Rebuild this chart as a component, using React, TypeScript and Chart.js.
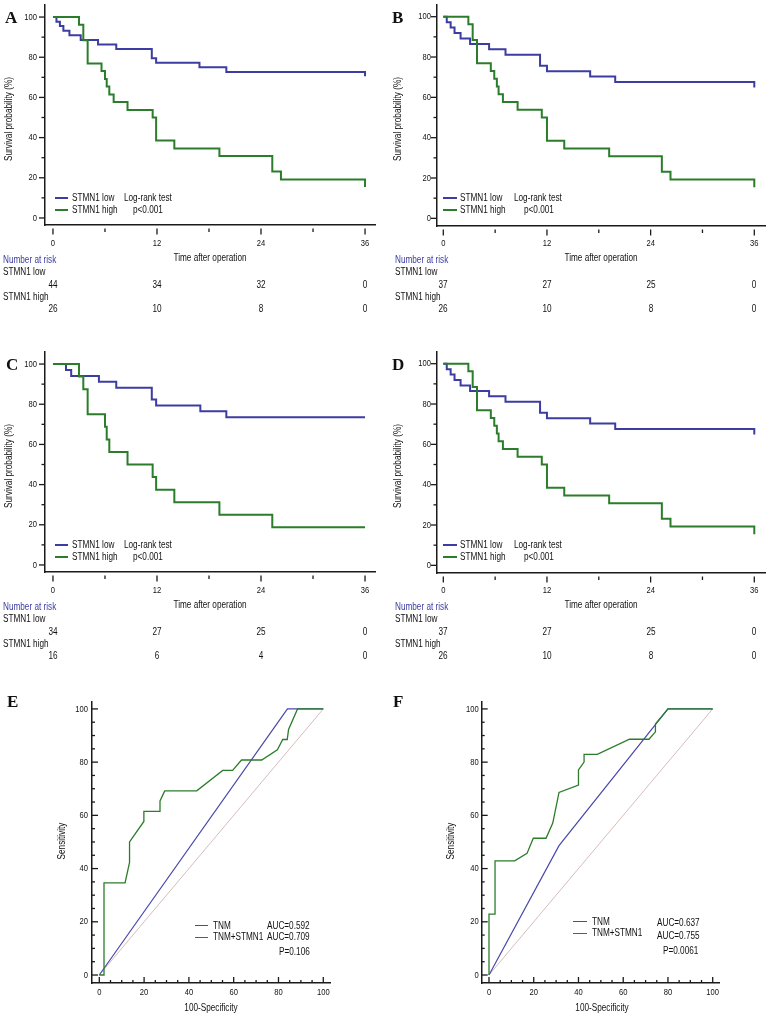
import React, { useEffect, useRef } from 'react';
import { Chart, registerables } from 'chart.js';
Chart.register(...registerables);

const FONT = "'Liberation Sans', 'Noto Sans', Arial, sans-serif";
const SQUEEZE = 0.82;
const SERIF = "'Liberation Serif', 'DejaVu Serif', serif";
const BLUE = '#3c3ca2';
const GREEN = '#2b7d2b';
const ROCBLUE = '#4848ac';
const AXIS = '#1a1a1a';
const TXT = '#111';

// ---------- Kaplan-Meier data (months, survival %) ----------
const monthTicks = [0, 12, 24, 36];
const monthMinor = [6, 18, 30];
const survTicks = [0, 20, 40, 60, 80, 100];
const survMinor = [10, 30, 50, 70, 90];

const aLowT = [0, 0.4, 0.8, 1.2, 1.9, 3.2, 5.2, 7.3, 11.4, 11.9, 16.9, 20.0, 36, 36];
const aLowS = [100, 97.7, 95.5, 93.2, 90.9, 88.6, 86.4, 84.1, 79.5, 77.3, 75.0, 72.7, 72.7, 70.5];
const aHighT = [0, 3.0, 3.5, 4.0, 5.6, 6.0, 6.2, 6.5, 7.0, 8.6, 11.5, 11.9, 14.0, 19.2, 25.3, 26.3, 36, 36];
const aHighS = [100, 96.2, 88.5, 76.9, 73.1, 69.2, 65.4, 61.5, 57.7, 53.8, 50.0, 38.5, 34.6, 30.8, 23.1, 19.2, 19.2, 15.4];

const bLowT = [0, 0.4, 0.85, 1.3, 2.0, 3.1, 5.3, 7.2, 11.2, 12.0, 17.0, 19.9, 36, 36];
const bLowS = [100, 97.3, 94.6, 91.9, 89.2, 86.5, 83.8, 81.1, 75.7, 73.0, 70.3, 67.6, 67.6, 64.9];
const bHighT = [0, 2.9, 3.4, 3.9, 5.5, 5.9, 6.2, 6.4, 6.9, 8.6, 11.4, 12.0, 14.0, 19.2, 25.3, 26.3, 36, 36];
const bHighS = [100, 96.2, 88.5, 76.9, 73.1, 69.2, 65.4, 61.5, 57.7, 53.8, 50.0, 38.5, 34.6, 30.8, 23.1, 19.2, 19.2, 15.4];

const cLowT = [0, 1.5, 2.1, 5.3, 7.3, 11.4, 11.9, 17.0, 20.0, 36];
const cLowS = [100, 97.1, 94.1, 91.2, 88.2, 82.4, 79.4, 76.5, 73.5, 73.5];
const cHighT = [0, 3.0, 3.5, 4.0, 6.0, 6.2, 6.5, 8.6, 11.5, 11.9, 14.0, 19.2, 25.3, 36];
const cHighS = [100, 93.75, 87.5, 75, 68.75, 62.5, 56.25, 50, 43.75, 37.5, 31.25, 25, 18.75, 18.75];

const dLowT = [0, 0.4, 0.85, 1.3, 2.0, 3.1, 5.3, 7.2, 11.2, 12.0, 17.0, 19.9, 36, 36];
const dLowS = [100, 97.3, 94.6, 91.9, 89.2, 86.5, 83.8, 81.1, 75.7, 73.0, 70.3, 67.6, 67.6, 64.9];
const dHighT = [0, 2.9, 3.4, 3.9, 5.5, 5.9, 6.2, 6.4, 6.9, 8.6, 11.4, 12.0, 14.0, 19.2, 25.3, 26.3, 36, 36];
const dHighS = [100, 96.2, 88.5, 76.9, 73.1, 69.2, 65.4, 61.5, 57.7, 53.8, 50.0, 38.5, 34.6, 30.8, 23.1, 19.2, 19.2, 15.4];

// Number at risk
const aRiskLow = [44, 34, 32, 0];
const aRiskHigh = [26, 10, 8, 0];
const bRiskLow = [37, 27, 25, 0];
const bRiskHigh = [26, 10, 8, 0];
const cRiskLow = [34, 27, 25, 0];
const cRiskHigh = [16, 6, 4, 0];
const dRiskLow = [37, 27, 25, 0];
const dRiskHigh = [26, 10, 8, 0];

// ---------- ROC data (100-Specificity, Sensitivity) ----------
const rocTicks = [0, 20, 40, 60, 80, 100];
const rocMinor = [5, 10, 15, 25, 30, 35, 45, 50, 55, 65, 70, 75, 85, 90, 95];
const diagX = [0, 100];
const diagY = [0, 100];

const eTnmX = [0, 84, 100];
const eTnmY = [0, 100, 100];
const eComboX = [0, 2.1, 2.1, 11.5, 13.5, 13.5, 19.9, 19.9, 27.1, 27.1, 29.2, 43.5, 55.1, 59.5, 63.5, 72.5, 79.5, 81.9, 83.9, 84.5, 88.5, 100];
const eComboY = [0, 0, 34.6, 34.6, 42.3, 50.0, 57.7, 61.5, 61.5, 65.4, 69.2, 69.2, 76.9, 76.9, 80.8, 80.8, 84.6, 88.5, 88.5, 92.3, 100, 100];

const fTnmX = [0, 31.3, 80, 100];
const fTnmY = [0, 48.6, 100, 100];
const fComboX = [0, 0, 2.7, 2.7, 11.5, 17.0, 19.8, 25.5, 28.5, 31.3, 40.0, 40.0, 42.5, 42.5, 48.4, 62.8, 71.5, 74.4, 74.4, 80, 100];
const fComboY = [0, 22.9, 22.9, 42.9, 42.9, 45.7, 51.4, 51.4, 57.1, 68.6, 71.4, 77.1, 80.0, 82.9, 82.9, 88.6, 88.6, 91.4, 94.3, 100, 100];

const pts = (xs: number[], ys: number[]) => xs.map((x, i) => ({ x, y: ys[i] }));

type Geo = {
  left: number; top: number; width: number; height: number;
  pad: { left: number; top: number; right: number; bottom: number };
  yW: number; xH: number;
  xMin: number; xMax: number; yMin: number; yMax: number;
  xLabelOff: number; yLabelGap: number;
};

function xPix(g: Geo, v: number) {
  const l = g.left + g.pad.left + g.yW;
  const r = g.left + g.width - g.pad.right;
  return l + ((v - g.xMin) / (g.xMax - g.xMin)) * (r - l);
}

type TickSpec = {
  xMajor: number[]; xMinor: number[]; yMajor: number[]; yMinor: number[];
  xDir: number; yDir: number; xGap: number; majorLen: number; minorLen: number;
  xLabelOff: number; yLabelGap: number;
};

function tickPlugin(spec: TickSpec) {
  return {
    id: 'customTicks',
    afterDraw(chart: any) {
      const { ctx, chartArea, scales } = chart;
      ctx.save();
      ctx.strokeStyle = AXIS;
      ctx.lineWidth = 1.3;
      const y0 = chartArea.bottom + spec.xDir * spec.xGap;
      const drawX = (v: number, len: number) => {
        const px = scales.x.getPixelForValue(v);
        ctx.beginPath();
        ctx.moveTo(px, y0);
        ctx.lineTo(px, y0 + spec.xDir * len);
        ctx.stroke();
      };
      spec.xMajor.forEach((v) => drawX(v, spec.majorLen));
      spec.xMinor.forEach((v) => drawX(v, spec.minorLen));
      const x0 = chartArea.left;
      const drawY = (v: number, len: number) => {
        const py = scales.y.getPixelForValue(v);
        ctx.beginPath();
        ctx.moveTo(x0, py);
        ctx.lineTo(x0 + spec.yDir * len, py);
        ctx.stroke();
      };
      spec.yMajor.forEach((v) => drawY(v, spec.majorLen));
      spec.yMinor.forEach((v) => drawY(v, spec.minorLen));

      // tick labels (narrow sans)
      ctx.fillStyle = TXT;
      ctx.font = `9.5px ${FONT}`;
      ctx.textBaseline = 'middle';
      ctx.textAlign = 'center';
      spec.xMajor.forEach((v) => {
        const px = scales.x.getPixelForValue(v);
        ctx.save();
        ctx.translate(px, chartArea.bottom + spec.xLabelOff);
        ctx.scale(0.8, 1);
        ctx.fillText(String(v), 0, 0);
        ctx.restore();
      });
      ctx.textAlign = 'right';
      spec.yMajor.forEach((v) => {
        const py = scales.y.getPixelForValue(v);
        ctx.save();
        ctx.translate(chartArea.left - spec.yLabelGap, py);
        ctx.scale(0.8, 1);
        ctx.fillText(String(v), 0, 0);
        ctx.restore();
      });
      ctx.restore();
    },
  };
}

function makeOptions(g: Geo, xTicks: number[], yTicks: number[]) {
  return {
    animation: false,
    responsive: false,
    devicePixelRatio: 1,
    events: [],
    layout: { padding: g.pad },
    plugins: { legend: { display: false }, tooltip: { enabled: false } },
    scales: {
      x: {
        type: 'linear',
        min: g.xMin,
        max: g.xMax,
        grid: { display: false, drawTicks: false },
        border: { display: true, color: AXIS, width: 1.5 },
        ticks: { display: false },
        afterBuildTicks: (s: any) => {
          s.ticks = xTicks.map((v) => ({ value: v }));
        },
        afterFit: (s: any) => {
          s.height = g.xH;
        },
        title: { display: false },
      },
      y: {
        type: 'linear',
        min: g.yMin,
        max: g.yMax,
        grid: { display: false, drawTicks: false },
        border: { display: true, color: AXIS, width: 1.5 },
        ticks: { display: false },
        afterBuildTicks: (s: any) => {
          s.ticks = yTicks.map((v) => ({ value: v }));
        },
        afterFit: (s: any) => {
          s.width = g.yW;
        },
        title: { display: false },
      },
    },
  };
}

function ChartBox({ g, config }: { g: Geo; config: any }) {
  const ref = useRef<HTMLCanvasElement | null>(null);
  useEffect(() => {
    if (!ref.current) return;
    const chart = new Chart(ref.current, config);
    return () => chart.destroy();
  }, []);
  return (
    <canvas
      ref={ref}
      width={g.width}
      height={g.height}
      style={{ position: 'absolute', left: g.left, top: g.top, width: g.width, height: g.height }}
    />
  );
}

function Txt({ x, y, children, size = 10, family = FONT, weight = 'normal', center = false, rotate = false, squeeze = SQUEEZE, color = TXT }: any) {
  let transform = `translateY(-50%) scaleX(${squeeze})`;
  let origin = 'left center';
  if (center) {
    transform = `translate(-50%, -50%) scaleX(${squeeze})`;
    origin = 'center center';
  }
  if (rotate) {
    transform = `translate(-50%, -50%) rotate(-90deg) scaleX(${squeeze})`;
    origin = 'center center';
  }
  return (
    <div
      style={{
        position: 'absolute',
        left: x,
        top: y,
        transform,
        transformOrigin: origin,
        fontFamily: family,
        fontSize: size,
        fontWeight: weight,
        lineHeight: 1,
        whiteSpace: 'nowrap',
        color,
      }}
    >
      {children}
    </div>
  );
}

function LegLine({ x1, x2, y, color, h = 2 }: any) {
  return <div style={{ position: 'absolute', left: x1, top: y - h / 2, width: x2 - x1, height: h, background: color }} />;
}

// ---------- panel geometry ----------
const geoA: Geo = {
  left: 0, top: 0, width: 385, height: 265,
  pad: { left: 0, top: 5, right: 10, bottom: 0 }, yW: 45, xH: 40,
  xMin: -0.92, xMax: 37.15, yMin: -3.5, yMax: 106,
  xLabelOff: 18, yLabelGap: 8,
};
const geoB: Geo = {
  left: 385, top: 0, width: 385, height: 265,
  pad: { left: 0, top: 5, right: 5, bottom: 0 }, yW: 52, xH: 39,
  xMin: -0.73, xMax: 37.24, yMin: -3.8, yMax: 105.8,
  xLabelOff: 17.3, yLabelGap: 6,
};
const geoC: Geo = { ...geoA, top: 347 };
const geoD: Geo = { ...geoB, top: 347 };
const geoE: Geo = {
  left: 0, top: 690, width: 385, height: 329,
  pad: { left: 50, top: 12, right: 55, bottom: 0 }, yW: 42, xH: 36,
  xMin: -3.26, xMax: 103, yMin: -3.0, yMax: 102.6,
  xLabelOff: 9.7, yLabelGap: 4,
};
const geoF: Geo = {
  left: 385, top: 690, width: 385, height: 329,
  pad: { left: 54.7, top: 12, right: 50.7, bottom: 0 }, yW: 42, xH: 36,
  xMin: -3.26, xMax: 102.95, yMin: -3.0, yMax: 102.6,
  xLabelOff: 9.7, yLabelGap: 3,
};

function kmConfig(g: Geo, lowT: number[], lowS: number[], highT: number[], highS: number[]) {
  return {
    type: 'line',
    data: {
      datasets: [
        { label: 'STMN1 high', data: pts(highT, highS), borderColor: GREEN, borderWidth: 2, pointRadius: 0, stepped: 'before', fill: false },
        { label: 'STMN1 low', data: pts(lowT, lowS), borderColor: BLUE, borderWidth: 2, pointRadius: 0, stepped: 'before', fill: false },
      ],
    },
    options: makeOptions(g, monthTicks, survTicks),
    plugins: [
      tickPlugin({
        xMajor: monthTicks, xMinor: monthMinor, yMajor: survTicks, yMinor: survMinor,
        xDir: 1, yDir: -1, xGap: 3.5, majorLen: 6, minorLen: 3.5,
        xLabelOff: g.xLabelOff, yLabelGap: g.yLabelGap,
      }),
    ],
  };
}

function rocConfig(g: Geo, tX: number[], tY: number[], cX: number[], cY: number[]) {
  return {
    type: 'line',
    data: {
      datasets: [
        { label: 'TNM+STMN1', data: pts(cX, cY), borderColor: GREEN, borderWidth: 1.3, pointRadius: 0, tension: 0, fill: false },
        { label: 'TNM', data: pts(tX, tY), borderColor: ROCBLUE, borderWidth: 1.2, pointRadius: 0, tension: 0, fill: false },
        { label: 'ref', data: pts(diagX, diagY), borderColor: '#d8bcbc', borderWidth: 1, pointRadius: 0, tension: 0, fill: false },
      ],
    },
    options: makeOptions(g, rocTicks, rocTicks),
    plugins: [
      tickPlugin({
        xMajor: rocTicks, xMinor: rocMinor, yMajor: rocTicks, yMinor: rocMinor,
        xDir: -1, yDir: 1, xGap: 0, majorLen: 6, minorLen: 3,
        xLabelOff: g.xLabelOff, yLabelGap: g.yLabelGap,
      }),
    ],
  };
}

function KMPanel({ g, letter, letterX, lowT, lowS, highT, highS, riskLow, riskHigh, leg }: any) {
  const oy = g.top;
  return (
    <>
      <ChartBox g={g} config={kmConfig(g, lowT, lowS, highT, highS)} />
      <Txt x={letterX} y={oy + 17} size={17} family={SERIF} weight="bold" squeeze={1} color="#111">{letter}</Txt>
      <Txt x={leg.ytx} y={oy + 119} rotate>Survival probability (%)</Txt>
      <Txt x={leg.xtx} y={oy + 258} center>Time after operation</Txt>
      <LegLine x1={leg.lx1} x2={leg.lx2} y={oy + 198} color={BLUE} />
      <LegLine x1={leg.lx1} x2={leg.lx2} y={oy + 209.5} color={GREEN} />
      <Txt x={leg.tx} y={oy + 198}>STMN1 low</Txt>
      <Txt x={leg.tx} y={oy + 209.5}>STMN1 high</Txt>
      <Txt x={leg.testX} y={oy + 198}>Log-rank test</Txt>
      <Txt x={leg.pX} y={oy + 209.5}>p&lt;0.001</Txt>
      <Txt x={leg.nx} y={oy + 260} color={BLUE}>Number at risk</Txt>
      <Txt x={leg.nx} y={oy + 272}>STMN1 low</Txt>
      {riskLow.map((v: number, i: number) => (
        <Txt key={'l' + i} x={xPix(g, monthTicks[i])} y={oy + 284.5} center>{v}</Txt>
      ))}
      <Txt x={leg.nx} y={oy + 296.5}>STMN1 high</Txt>
      {riskHigh.map((v: number, i: number) => (
        <Txt key={'h' + i} x={xPix(g, monthTicks[i])} y={oy + 309} center>{v}</Txt>
      ))}
    </>
  );
}

function ROCPanel({ g, letter, letterX, tX, tY, cX, cY, leg, auc1, auc2, p }: any) {
  return (
    <>
      <ChartBox g={g} config={rocConfig(g, tX, tY, cX, cY)} />
      <Txt x={letterX} y={701} size={17} family={SERIF} weight="bold" squeeze={1} color="#111">{letter}</Txt>
      <Txt x={leg.ytx} y={841} rotate>Sensitivity</Txt>
      <Txt x={leg.xtx} y={1008.3} center>100-Specificity</Txt>
      <LegLine x1={leg.lx1} x2={leg.lx2} y={leg.y1} color={ROCBLUE} h={1.3} />
      <LegLine x1={leg.lx1} x2={leg.lx2} y={leg.y2} color={GREEN} h={1.3} />
      <Txt x={leg.tx} y={leg.y1}>TNM</Txt>
      <Txt x={leg.tx} y={leg.y2}>TNM+STMN1</Txt>
      <Txt x={leg.ax} y={leg.ay1}>{auc1}</Txt>
      <Txt x={leg.ax} y={leg.ay2}>{auc2}</Txt>
      <Txt x={leg.px} y={leg.py}>{p}</Txt>
    </>
  );
}

export default function App() {
  const legA = { lx1: 55, lx2: 68, tx: 72, testX: 124, pX: 133, nx: 3, ytx: 9, xtx: 210 };
  const legB = { lx1: 443, lx2: 457, tx: 460, testX: 514, pX: 524, nx: 395, ytx: 397.5, xtx: 601 };
  return (
    <div style={{ position: 'absolute', left: 0, top: 0, width: 770, height: 1019, background: '#fff', overflow: 'hidden' }}>
      <KMPanel g={geoA} letter="A" letterX={5} lowT={aLowT} lowS={aLowS} highT={aHighT} highS={aHighS} riskLow={aRiskLow} riskHigh={aRiskHigh} leg={legA} />
      <KMPanel g={geoB} letter="B" letterX={392} lowT={bLowT} lowS={bLowS} highT={bHighT} highS={bHighS} riskLow={bRiskLow} riskHigh={bRiskHigh} leg={legB} />
      <KMPanel g={geoC} letter="C" letterX={6} lowT={cLowT} lowS={cLowS} highT={cHighT} highS={cHighS} riskLow={cRiskLow} riskHigh={cRiskHigh} leg={legA} />
      <KMPanel g={geoD} letter="D" letterX={392} lowT={dLowT} lowS={dLowS} highT={dHighT} highS={dHighS} riskLow={dRiskLow} riskHigh={dRiskHigh} leg={legB} />
      <ROCPanel g={geoE} letter="E" letterX={7} tX={eTnmX} tY={eTnmY} cX={eComboX} cY={eComboY}
        leg={{ lx1: 195, lx2: 208, tx: 213.3, y1: 925.7, y2: 937.3, ax: 267.2, ay1: 925.7, ay2: 937.3, px: 279.3, py: 951.7, ytx: 61.5, xtx: 211 }}
        auc1="AUC=0.592" auc2="AUC=0.709" p="P=0.106" />
      <ROCPanel g={geoF} letter="F" letterX={393} tX={fTnmX} tY={fTnmY} cX={fComboX} cY={fComboY}
        leg={{ lx1: 573.3, lx2: 586.7, tx: 591.7, y1: 921.7, y2: 933.3, ax: 656.7, ay1: 923.3, ay2: 935.7, px: 663.3, py: 950.7, ytx: 450.7, xtx: 601.5 }}
        auc1="AUC=0.637" auc2="AUC=0.755" p="P=0.0061" />
    </div>
  );
}
